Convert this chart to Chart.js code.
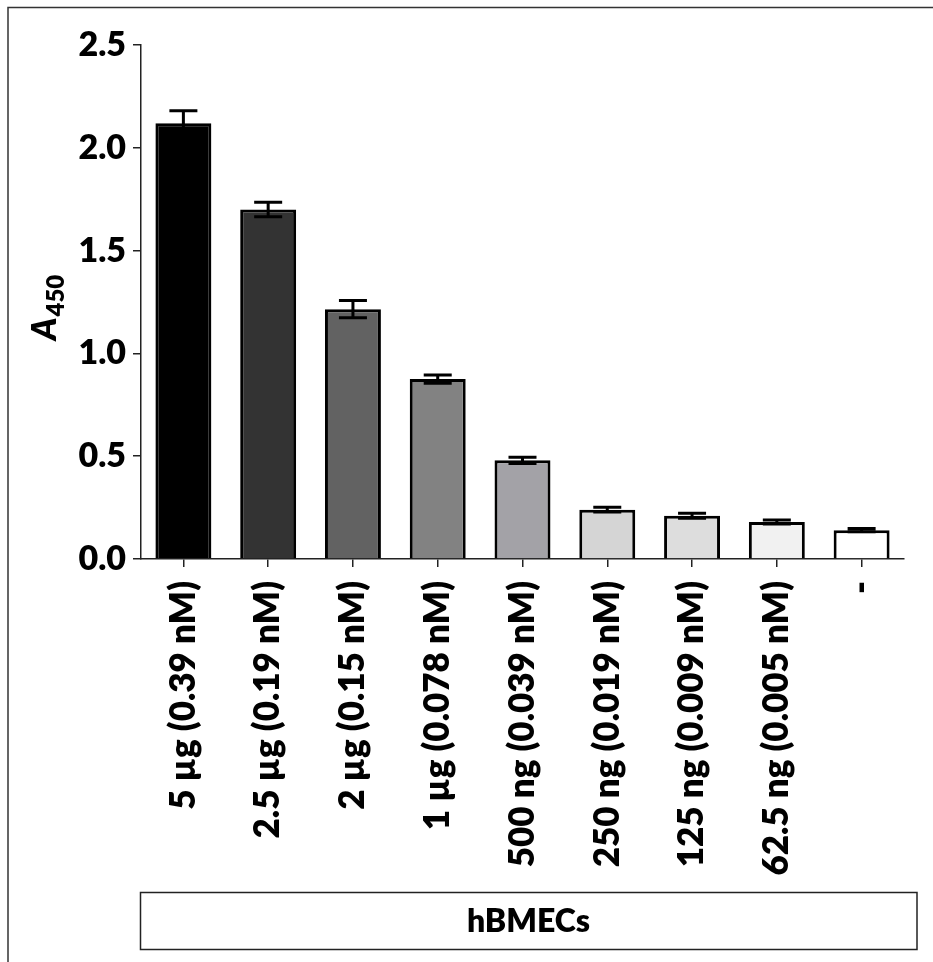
<!DOCTYPE html>
<html>
<head>
<meta charset="utf-8">
<script src="https://cdn.jsdelivr.net/npm/chart.js@4/dist/chart.umd.min.js"></script>
<style>
  html, body { margin: 0; padding: 0; background: #fff; }
  canvas { display: block; }
</style>
</head>
<body>
<canvas id="c" width="933" height="962"></canvas>
<script>
// Dose series: protein amount (molar concentration) per well
const categories = [
  '5 µg (0.39 nM)',
  '2.5 µg (0.19 nM)',
  '2 µg (0.15 nM)',
  '1 µg (0.078 nM)',
  '500 ng (0.039 nM)',
  '250 ng (0.019 nM)',
  '125 ng (0.009 nM)',
  '62.5 ng (0.005 nM)',
  '-'
];
// Mean absorbance at 450 nm and its error (±)
const meanA450 = [2.12, 1.70, 1.215, 0.875, 0.48, 0.24, 0.21, 0.18, 0.14];
const errA450 = [0.06, 0.035, 0.042, 0.02, 0.015, 0.012, 0.012, 0.01, 0.008];
const yTicks = [0, 0.5, 1.0, 1.5, 2.0, 2.5];
const groupLabel = 'hBMECs';

const barFills = ['#000000', '#333333', '#626262', '#828282', '#a3a2a7',
                  '#d5d5d5', '#dddddd', '#f1f1f1', '#ffffff'];
const FONT = 'Lato, "Open Sans", sans-serif';
const WEIGHT = '800';

// Error bars with caps, drawn on top of the bars
const errorBars = {
  id: 'errorBars',
  afterDatasetsDraw(chart) {
    const ctx = chart.ctx;
    const y = chart.scales.y;
    const meta = chart.getDatasetMeta(0);
    ctx.save();
    ctx.strokeStyle = '#000';
    ctx.lineWidth = 3;
    ctx.lineCap = 'butt';
    meta.data.forEach((bar, i) => {
      const v = meanA450[i], e = errA450[i];
      const yt = y.getPixelForValue(v + e);
      const yb = y.getPixelForValue(v - e);
      const half = 14;
      ctx.beginPath();
      ctx.moveTo(bar.x, yt); ctx.lineTo(bar.x, yb);
      ctx.moveTo(bar.x - half, yt); ctx.lineTo(bar.x + half, yt);
      ctx.moveTo(bar.x - half, yb); ctx.lineTo(bar.x + half, yb);
      ctx.stroke();
    });
    ctx.restore();
  }
};

// Y-axis title (A with subscript 450), group box and frame lines
const decorations = {
  id: 'decorations',
  afterDraw(chart) {
    const ctx = chart.ctx;
    const area = chart.chartArea;
    ctx.save();
    // frame
    ctx.strokeStyle = '#333';
    ctx.lineWidth = 1.5;
    ctx.beginPath();
    ctx.moveTo(8, 962); ctx.lineTo(8, 7.5); ctx.lineTo(933, 7.5);
    ctx.stroke();

    // axis title
    const cy = (area.top + area.bottom) / 2 + 6;
    ctx.translate(56, cy);
    ctx.rotate(-Math.PI / 2);
    ctx.fillStyle = '#000';
    ctx.textBaseline = 'alphabetic';
    const fA = 'italic ' + WEIGHT + ' 34px ' + FONT;
    const fS = WEIGHT + ' 24px ' + FONT;
    ctx.font = fA;
    const wA = ctx.measureText('A').width;
    ctx.font = fS;
    const wS = ctx.measureText('450').width;
    const x0 = -(wA + wS) / 2;
    ctx.font = fA;
    ctx.textAlign = 'left';
    ctx.fillText('A', x0, 0);
    ctx.font = fS;
    ctx.fillText('450', x0 + wA + 1, 8);
    ctx.restore();

    // group box
    ctx.save();
    ctx.strokeStyle = '#222';
    ctx.lineWidth = 1.5;
    ctx.strokeRect(140.5, 892.5, 776.5, 57);
    ctx.fillStyle = '#000';
    ctx.font = WEIGHT + ' 32px ' + FONT;
    ctx.textAlign = 'center';
    ctx.textBaseline = 'middle';
    ctx.fillText(groupLabel, 528.5, 921.5);
    ctx.restore();
  }
};

new Chart(document.getElementById('c'), {
  type: 'bar',
  data: {
    labels: categories,
    datasets: [{
      data: meanA450,
      backgroundColor: barFills,
      borderColor: '#000',
      borderWidth: 3,
      borderSkipped: 'start',
      categoryPercentage: 1.0,
      barPercentage: 0.66
    }]
  },
  options: {
    responsive: false,
    animation: false,
    devicePixelRatio: 1,
    layout: { padding: { top: 45, right: 29, bottom: 0, left: 0 } },
    plugins: {
      legend: { display: false },
      tooltip: { enabled: false },
      title: { display: false }
    },
    scales: {
      x: {
        grid: {
          display: true, drawOnChartArea: false, drawTicks: true,
          tickLength: 8, color: '#222', lineWidth: 1.5, offset: false
        },
        border: { display: true, color: '#222', width: 1.5 },
        ticks: {
          autoSkip: false, minRotation: 90, maxRotation: 90,
          padding: 14, color: '#000',
          font: { family: FONT, weight: WEIGHT, size: 35 }
        },
        afterFit(scale) { scale.height = 403; }
      },
      y: {
        min: 0, max: 2.5,
        afterBuildTicks(scale) { scale.ticks = yTicks.map(v => ({ value: v })); },
        grid: {
          display: true, drawOnChartArea: false, drawTicks: true,
          tickLength: 8, color: '#222', lineWidth: 1.5
        },
        border: { display: true, color: '#222', width: 1.5 },
        ticks: {
          padding: 7, color: '#000',
          font: { family: FONT, weight: WEIGHT, size: 34 },
          callback: v => Number(v).toFixed(1)
        },
        afterFit(scale) { scale.width = 141; }
      }
    }
  },
  plugins: [errorBars, decorations]
});
</script>
</body>
</html>
